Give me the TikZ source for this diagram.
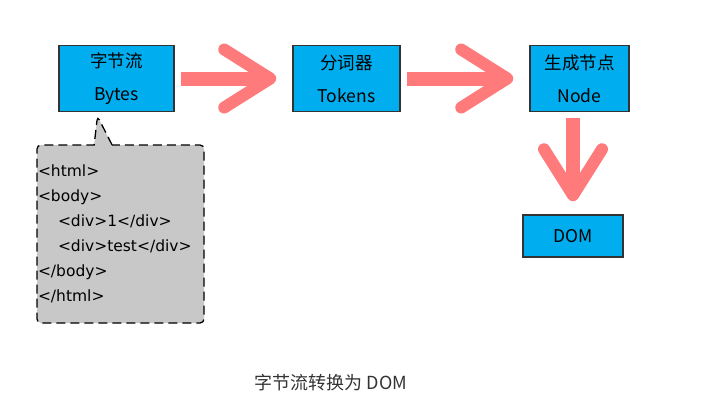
\documentclass[tikz,border=0pt]{standalone}
\usepackage{fontspec}
\setmainfont{Noto Sans CJK SC}
\newfontfamily\srcfont{DejaVu Sans}
\usetikzlibrary{arrows.meta, shapes.callouts}
\definecolor{boxblue}{HTML}{00ADEF}
\definecolor{arrowred}{HTML}{FF7B7B}
\definecolor{notegray}{HTML}{C8C8C8}
\definecolor{captiongray}{HTML}{333333}
\tikzset{
  stage/.style={draw=black!80, line width=1.5pt, fill=boxblue, inner sep=0pt,
    minimum height=66pt, align=center, font=\fontsize{17.5}{33}\selectfont},
  flow/.style={draw=arrowred, line width=14pt,
    -{Straight Barb[length=46pt, width=58pt, line width=12pt, round]}},
}

\begin{document}
\begin{tikzpicture}[x=1pt, y=-1pt]
\useasboundingbox (0,0) rectangle (706,402);
% stages
\node[stage, minimum width=115pt] (bytes) at (116.5,78.5) {字节流\\Bytes};
\node[stage, minimum width=107pt] (tokens) at (346.5,78.5) {分词器\\Tokens};
\node[stage, minimum width=99pt] (nodebox) at (579.5,78.5) {生成节点\\Node};
\node[stage, minimum width=100pt, minimum height=42pt] (dom) at (573,236) {DOM};
% html source
\node[rectangle callout, draw, line width=1.3pt, dash pattern=on 9pt off 5pt,
  fill=notegray, rounded corners=4pt, callout pointer width=18pt,
  callout absolute pointer={([xshift=-19pt,yshift=-4pt]bytes.south)},
  minimum height=178pt, text width=165pt, inner xsep=1pt, align=left,
  font=\srcfont\fontsize{15.5}{25}\selectfont] (html) at (120.5,234)
  {<html>\\<body>\\\hspace*{20pt}<div>1</div>\\\hspace*{20pt}<div>test</div>\\</body>\\</html>};
% flow
\draw[flow] ([xshift=6pt]bytes.east) -- ([xshift=-16pt]tokens.west);
\draw[flow] ([xshift=6pt]tokens.east) -- ([xshift=-16pt]nodebox.west);
\draw[flow] ([yshift=-6pt]dom |- nodebox.south) -- ([yshift=13pt]dom.north);
\node[font=\fontsize{18}{20}\selectfont, text=captiongray] (caption) at (331,383) {字节流转换为 DOM};
\end{tikzpicture}
\end{document}
